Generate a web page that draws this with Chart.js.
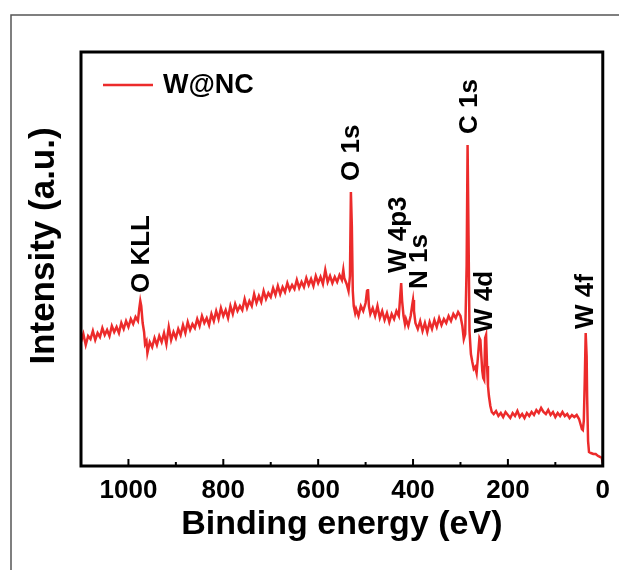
<!DOCTYPE html>
<html>
<head>
<meta charset="utf-8">
<script src="https://cdn.jsdelivr.net/npm/chart.js@4"></script>
<style>
  body { margin: 0; background: #fff; }
  canvas { display: block; }
</style>
</head>
<body>
<canvas id="xpsChart" width="619" height="570"></canvas>
<script>
// survey spectrum (binding energy in eV, intensity a.u.)
const energy = [
  1100, 1095, 1090, 1085, 1080, 1075, 1070, 1065, 1060, 1055, 1050, 1045, 1040, 1035, 1030, 1025, 1020, 1015, 1010, 1005,
  1000, 995, 990, 985, 980, 977, 975, 973, 970, 967, 965, 962, 960, 955, 950, 945, 940, 935, 930, 925,
  920, 915, 910, 905, 900, 895, 890, 885, 880, 875, 870, 865, 860, 855, 850, 845, 840, 835, 830, 825,
  820, 815, 810, 805, 800, 795, 790, 785, 780, 775, 770, 765, 760, 755, 750, 745, 740, 735, 730, 725,
  720, 715, 710, 705, 700, 695, 690, 685, 680, 675, 670, 665, 660, 655, 650, 645, 640, 635, 630, 625,
  620, 615, 610, 605, 600, 595, 590, 585, 580, 575, 570, 565, 560, 555, 550, 547, 545, 540, 536, 533,
  531, 529, 527, 525, 522, 520, 515, 510, 505, 500, 497, 495, 493, 490, 485, 480, 475, 470, 465, 460,
  455, 450, 445, 440, 435, 430, 427, 425, 423, 420, 417, 415, 410, 405, 402, 400, 398, 395, 390, 385,
  380, 375, 370, 365, 360, 355, 350, 345, 340, 335, 330, 325, 320, 315, 310, 305, 300, 296, 293, 290,
  287, 285, 283, 281, 278, 275, 272, 269, 266, 263, 260, 258, 256, 254, 252, 250, 248, 246, 244, 242,
  240, 237, 234, 230, 225, 220, 215, 210, 205, 200, 195, 190, 185, 180, 175, 170, 165, 160, 155, 150,
  145, 140, 135, 130, 125, 120, 115, 110, 105, 100, 95, 90, 85, 80, 75, 70, 65, 60, 55, 50,
  47, 44, 42, 40, 38, 36, 34, 33, 31, 29, 25, 20, 15, 10, 5, 2, 0
];
const intensity = [
  124, 132, 121, 130, 127, 135, 126, 133, 129, 138, 131, 136, 130, 140, 134, 139, 133, 143, 137, 145,
  139, 147, 142, 149, 145, 158, 165, 160, 143, 134, 122, 125, 113, 124, 119, 128, 121, 130, 124, 133,
  122, 139, 126, 134, 128, 137, 131, 141, 133, 144, 136, 142, 138, 147, 140, 150, 143, 148, 141, 152,
  145, 155, 147, 158, 150, 156, 148, 160, 152, 162, 155, 160, 156, 167, 158, 165, 160, 172, 163, 170,
  164, 175, 167, 173, 169, 178, 171, 180, 172, 179, 174, 183, 176, 181, 177, 186, 178, 184, 179, 188,
  181, 187, 180, 190, 183, 189, 182, 196, 184, 190, 183, 189, 184, 191, 186, 196, 188, 182, 175, 190,
  274, 240, 175, 160, 153, 157, 150, 160, 155, 163, 175, 177, 160, 152, 158, 150, 160, 148, 155, 146,
  153, 144, 152, 147, 155, 150, 170, 183, 165, 150, 142, 147, 140, 150, 160, 166, 155, 143, 137, 145,
  135, 143, 134, 144, 137, 146, 139, 148, 141, 147, 143, 150, 145, 152, 148, 154, 150, 140, 127, 132,
  200, 321, 230, 135, 112, 104, 97, 99, 93, 110, 128, 126, 110, 95, 88, 86, 128, 131, 100, 80,
  70, 60, 54, 52, 55, 50, 53, 49, 54, 51, 48, 53, 50, 55, 49, 52, 48, 53, 50, 54,
  51, 56, 53, 58, 54, 52, 56, 51, 54, 49, 53, 50, 54, 50, 52, 48, 51, 49, 51, 47,
  42, 37, 36, 45, 85, 133, 110, 70, 25, 14, 13, 12, 12, 10, 9, 8, 3
];

// peak assignments
const peakNames = ['O KLL', 'O 1s', 'W 4p3', 'N 1s', 'C 1s', 'W 4d', 'W 4f'];
const peakEnergy = [972, 528, 430, 386, 281, 248, 36];
const peakLabelBase = [173, 285, 193, 177, 332, 133, 137];

const red = '#ec2b2b';
const fontFamily = '"Liberation Sans", Arial, sans-serif';

const framePlugin = {
    id: 'frame',
    beforeDraw(chart) {
        const ctx = chart.ctx;
        ctx.save();
        ctx.strokeStyle = '#555';
        ctx.lineWidth = 1.5;
        ctx.beginPath();
        ctx.moveTo(11, 570);
        ctx.lineTo(11, 15);
        ctx.lineTo(619, 15);
        ctx.stroke();
        ctx.restore();
    },
    afterDraw(chart) {
        const ctx = chart.ctx;
        const a = chart.chartArea;
        const x = chart.scales.x;
        const y = chart.scales.y;
        ctx.save();
        // inward ticks
        ctx.strokeStyle = '#000';
        ctx.lineWidth = 2;
        x.ticks.forEach(t => {
            const px = x.getPixelForValue(t.value);
            const len = t.value % 200 === 0 ? 7 : 4;
            ctx.beginPath();
            ctx.moveTo(px, a.bottom);
            ctx.lineTo(px, a.bottom - len);
            ctx.stroke();
        });
        // box
        ctx.lineWidth = 3;
        ctx.strokeRect(a.left, a.top, a.right - a.left, a.bottom - a.top);

        // legend inside the box
        const ds = chart.data.datasets[0];
        ctx.strokeStyle = ds.borderColor;
        ctx.lineWidth = ds.borderWidth;
        ctx.beginPath();
        ctx.moveTo(a.left + 22, a.top + 33);
        ctx.lineTo(a.left + 72, a.top + 33);
        ctx.stroke();
        ctx.fillStyle = '#000';
        ctx.font = 'bold 27px ' + fontFamily;
        ctx.textAlign = 'left';
        ctx.textBaseline = 'middle';
        ctx.fillText(ds.label, a.left + 82, a.top + 34);

        // peak labels
        ctx.font = 'bold 26px ' + fontFamily;
        peakNames.forEach((name, i) => {
            ctx.save();
            ctx.translate(x.getPixelForValue(peakEnergy[i]), y.getPixelForValue(peakLabelBase[i]));
            ctx.rotate(-Math.PI / 2);
            ctx.fillText(name, 0, 0);
            ctx.restore();
        });

        // y title
        ctx.save();
        ctx.font = 'bold 35px ' + fontFamily;
        ctx.textAlign = 'center';
        ctx.translate(44, 246);
        ctx.rotate(-Math.PI / 2);
        ctx.fillText('Intensity (a.u.)', 0, 0);
        ctx.restore();
        ctx.restore();
    }
};

new Chart(document.getElementById('xpsChart'), {
    type: 'line',
    data: {
        labels: energy,
        datasets: [{
            label: 'W@NC',
            data: energy.map((e, i) => ({ x: e, y: intensity[i] })),
            borderColor: red,
            backgroundColor: red,
            borderWidth: 2.5,
            pointRadius: 0,
            tension: 0
        }]
    },
    options: {
        responsive: false,
        animation: false,
        layout: {
            padding: { left: 81, top: 52, right: 15, bottom: 0 }
        },
        plugins: {
            legend: { display: false },
            tooltip: { enabled: false }
        },
        scales: {
            x: {
                type: 'linear',
                reverse: true,
                min: 0,
                max: 1100,
                afterFit: scale => { scale.height = 104; },
                grid: { display: false, drawTicks: false },
                border: { display: false },
                ticks: {
                    stepSize: 100,
                    autoSkip: false,
                    maxRotation: 0,
                    padding: 9,
                    color: '#000',
                    font: { family: fontFamily, size: 26, weight: 'bold' },
                    callback: v => (v % 200 === 0 ? v : '')
                },
                title: {
                    display: true,
                    text: 'Binding energy (eV)',
                    color: '#000',
                    padding: { top: 0, bottom: 25 },
                    font: { family: fontFamily, size: 34, weight: 'bold' }
                }
            },
            y: {
                display: false,
                min: 0,
                max: 414
            }
        }
    },
    plugins: [framePlugin]
});
</script>
</body>
</html>
